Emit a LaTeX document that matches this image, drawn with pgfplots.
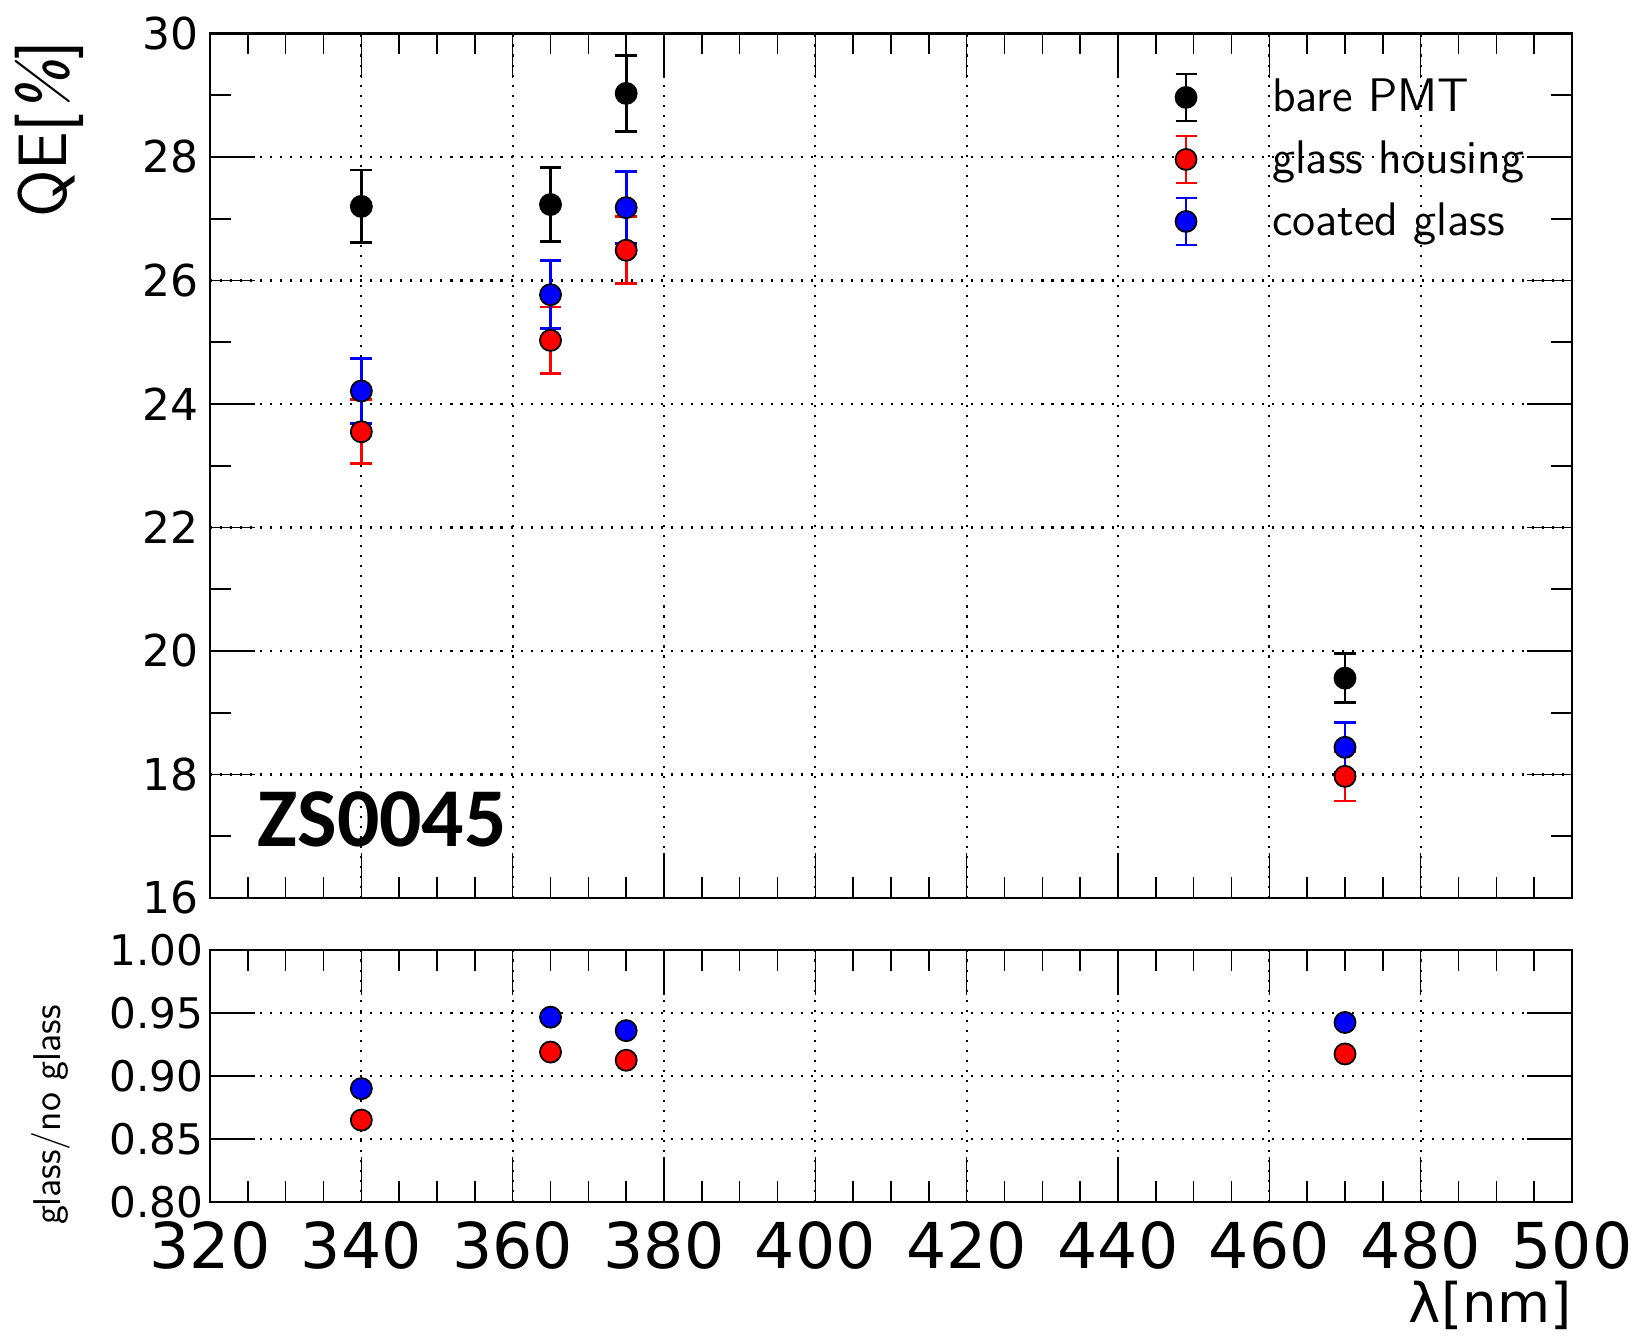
\documentclass[border=0pt]{standalone}
\usepackage{fontspec}
\setmainfont{DejaVu Sans}
\newfontfamily\labelfont{Carlito}
\usepackage{pgfplots}
\pgfplotsset{compat=1.18}

\pgfplotsset{
  rootstyle/.style={
    scale only axis,
    width=13.62cm,
    xmin=320, xmax=500,
    xtick={320,340,...,500},
    minor x tick num=3,
    tick align=inside,
    axis line style={line width=0.8pt},
    every tick/.style={black, line width=0.45pt},
    major tick length=0.45cm,
    minor tick length=0.21cm,
    grid=major,
    major grid style={black, line width=0.6pt, dash pattern=on 0.6pt off 2.25pt},
    /pgf/number format/assume math mode=true,
  },
  errpt/.style={
    only marks, mark=*, mark size=3pt,
    mark options={draw=black, fill=#1, line width=0.5pt},
    error bars/.cd, y dir=both, y explicit,
    error bar style={line width=0.8pt, color=#1},
    error mark options={rotate=90, mark size=3.1pt, line width=0.8pt, color=#1},
    /pgfplots/.cd,
  },
  legimg/.style={
    legend image code/.code={
      \path[draw=none, fill=none] (0,-0.31cm) rectangle (1.09cm,0.31cm);
      \draw[#1, line width=0.5pt] (0.3cm,-0.235cm) -- (0.3cm,0.235cm)
        (0.195cm,-0.235cm) -- (0.405cm,-0.235cm)
        (0.195cm,0.235cm) -- (0.405cm,0.235cm);
      \draw[black, fill=#1, line width=0.5pt] (0.3cm,0) circle (0.105cm);
    }
  },
}

\begin{document}
\begin{tikzpicture}
\path[use as bounding box] (0,0) rectangle (16.43,13.36);

% upper panel: QE
\begin{axis}[
  rootstyle,
  at={(2.10cm,4.38cm)}, anchor=south west,
  height=8.645cm,
  ymin=16, ymax=30,
  ytick={16,18,...,30},
  minor y tick num=1,
  xticklabels={},
  yticklabel style={font=\fontsize{12.5}{14}\selectfont, inner sep=0pt, xshift=-0.11cm},
  ylabel={\sffamily QE[\textsl{\%}]},
  ylabel style={font=\fontsize{19.5}{22}\selectfont, inner sep=0pt,
    at={(rel axis cs:-0.105,0.9925)}, anchor=base east},
  legend style={draw=none, fill=none, inner sep=0pt, outer sep=0pt,
    at={(rel axis cs:0.6946,0.9619)}, anchor=north west,
    row sep=0pt, font=\sffamily\fontsize{13.4}{15}\selectfont,
    cells={anchor=west}},
]
\addplot+[legimg=black, errpt=black] coordinates {
  (340,27.20) +- (0,0.59)
  (365,27.23) +- (0,0.60)
  (375,29.03) +- (0,0.62)
  (470,19.56) +- (0,0.40)
};
\addlegendentry{bare PMT}
\addplot+[legimg=red, errpt=red] coordinates {
  (340,23.55) +- (0,0.52)
  (365,25.03) +- (0,0.54)
  (375,26.49) +- (0,0.54)
  (470,17.97) +- (0,0.40)
};
\addlegendentry{glass housing}
\addplot+[legimg=blue, errpt=blue] coordinates {
  (340,24.21) +- (0,0.53)
  (365,25.77) +- (0,0.55)
  (375,27.18) +- (0,0.58)
  (470,18.44) +- (0,0.40)
};
\addlegendentry{coated glass}
\node[anchor=base west, inner sep=0pt, font=\labelfont\bfseries\fontsize{23.8}{26}\selectfont]
  at (axis cs:326.2,16.83) {ZS0045};
\end{axis}

% lower panel: ratio
\begin{axis}[
  rootstyle,
  at={(2.10cm,1.34cm)}, anchor=south west,
  height=2.52cm,
  ymin=0.80, ymax=1.00,
  ytick={0.80,0.85,...,1.00},
  yticklabel style={font=\fontsize{12}{13}\selectfont, inner sep=0pt, xshift=-0.06cm,
    /pgf/number format/.cd, fixed, fixed zerofill, precision=2},
  xticklabel style={font=\fontsize{18}{20}\selectfont, inner sep=0pt, yshift=-0.19cm},
  xlabel={λ[nm]},
  xlabel style={font=\fontsize{15.5}{17}\selectfont, inner sep=0pt,
    at={(rel axis cs:1,0)}, anchor=base east, yshift=-1.20cm},
  ylabel={\sffamily glass/no glass},
  ylabel style={font=\fontsize{11}{13}\selectfont, at={(rel axis cs:-0.110,0.345)}, anchor=base},
]
\addplot+[only marks, mark=*, mark size=3pt, mark options={draw=black, fill=red, line width=0.5pt}]
  coordinates {(340,0.865) (365,0.919) (375,0.9125) (470,0.9175)};
\addplot+[only marks, mark=*, mark size=3pt, mark options={draw=black, fill=blue, line width=0.5pt}]
  coordinates {(340,0.890) (365,0.9467) (375,0.936) (470,0.9425)};
\end{axis}
\end{tikzpicture}
\end{document}
